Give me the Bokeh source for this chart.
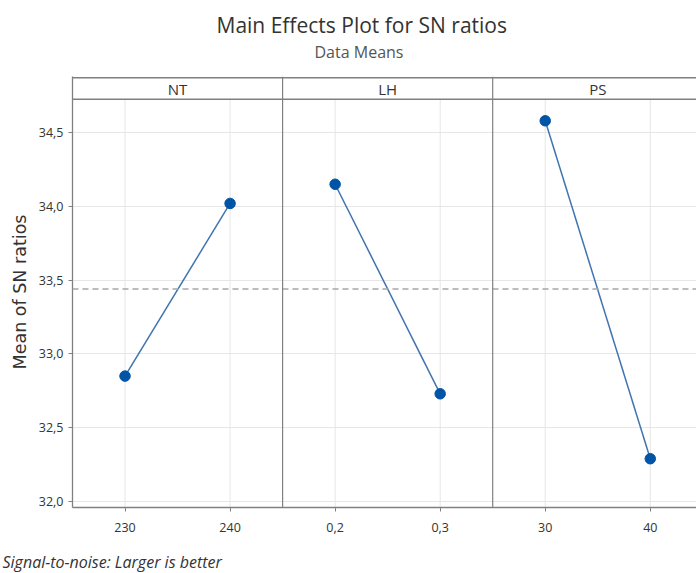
from bokeh.plotting import figure
from bokeh.models import Range1d, FixedTicker, Span, Title, ColumnDataSource
from bokeh.core.properties import value
from bokeh.embed import file_html
from bokeh.resources import INLINE

# ---- data ----
factors = ["NT", "LH", "PS"]
levels = [["230", "240"], ["0,2", "0,3"], ["30", "40"]]
sn_means = [[32.85, 34.02], [34.15, 32.73], [34.58, 32.29]]
overall_mean = 33.44
y_ticks = [32.0, 32.5, 33.0, 33.5, 34.0, 34.5]
y_tick_labels = ["32,0", "32,5", "33,0", "33,5", "34,0", "34,5"]
title_text = "Main Effects Plot for SN ratios"
subtitle_text = "Data Means"
footer_text = "Signal-to-noise: Larger is better"

FONT = "Open Sans"
TXT = "#333333"
FRAME = "#808080"

# ---- layout ----
y_start = 31.9595
strip_bottom = 34.725
strip_top = 34.872
y_end = strip_top + 0.008
x_start, x_end = -0.5, 5.44

p = figure(width=696, height=573, output_backend="svg", toolbar_location=None,
           x_range=Range1d(x_start, x_end), y_range=Range1d(y_start, y_end),
           min_border_left=72, min_border_right=0, min_border_top=76,
           min_border_bottom=66, background_fill_color="white",
           border_fill_color="white")
p.outline_line_color = None

# titles (stacked outward from the frame)
p.add_layout(Title(text=" ", text_font_size="1px", standoff=11), "above")  # spacer
p.add_layout(Title(text=subtitle_text, align="left", offset=242,
                   text_font=FONT, text_font_size="16px", text_font_style="normal",
                   text_color="#555555", standoff=0), "above")
p.add_layout(Title(text=title_text, align="left", offset=144,
                   text_font=FONT, text_font_size="21px", text_font_style="normal",
                   text_color=TXT, standoff=0), "above")
p.add_layout(Title(text=footer_text, align="left", offset=-70,
                   text_font=FONT, text_font_size="16px", text_font_style="italic",
                   text_color=TXT, standoff=0), "below")

# x positions
xs, ys, xlab = [], [], {}
for i, (lv, vals) in enumerate(zip(levels, sn_means)):
    for j, (l, v) in enumerate(zip(lv, vals)):
        xs.append(2 * i + j)
        ys.append(v)
        xlab[2 * i + j] = l

# grids
p.xgrid.visible = False
p.ygrid.ticker = FixedTicker(ticks=y_ticks)
p.ygrid.grid_line_color = "#e6e6e6"
p.segment(x0=xs, y0=[y_start] * len(xs), x1=xs, y1=[strip_bottom] * len(xs),
          line_color="#e6e6e6", line_width=1)

# mean reference
p.add_layout(Span(location=overall_mean, dimension="width", line_color="#a6a6a6",
                  line_dash="6 4", line_width=1.3))

# strip
p.add_layout(Span(location=strip_bottom, dimension="width", line_color=FRAME, line_width=1.5))
p.add_layout(Span(location=strip_top, dimension="width", line_color=FRAME, line_width=1.5))
for i in range(len(factors) - 1):
    p.add_layout(Span(location=2 * i + 1.5, dimension="height", line_color=FRAME, line_width=1.2))
p.text(x=[2 * i + 0.5 for i in range(len(factors))],
       y=[(strip_bottom + strip_top) / 2] * len(factors), text=factors,
       text_align="center", text_baseline="middle", text_font=value(FONT),
       text_font_size="15px", text_color=TXT)

# series
for i, vals in enumerate(sn_means):
    src = ColumnDataSource(dict(x=[2 * i, 2 * i + 1], y=vals))
    p.line("x", "y", source=src, line_color="#3f74b0", line_width=1.5)
    p.scatter("x", "y", source=src, size=10.5, fill_color="#0054a6", line_color="#0054a6")

# axes
p.yaxis.ticker = FixedTicker(ticks=y_ticks)
p.yaxis.major_label_overrides = dict(zip(y_ticks, y_tick_labels))
p.yaxis.axis_label = "Mean of SN ratios"
p.yaxis.axis_label_text_font = "DejaVu Sans"
p.yaxis.axis_label_text_font_size = "17.5px"
p.yaxis.axis_label_text_font_style = "normal"
p.yaxis.axis_label_text_color = TXT
p.yaxis.axis_label_standoff = 6
p.xaxis.ticker = FixedTicker(ticks=xs)
p.xaxis.major_label_overrides = xlab
p.xaxis.axis_label = " "
p.xaxis.axis_label_text_font_size = "1px"
p.xaxis.axis_label_standoff = 10
for ax in (p.xaxis, p.yaxis):
    ax.axis_line_color = FRAME
    ax.axis_line_width = 1.3
    ax.major_tick_line_color = FRAME
    ax.major_tick_out = 4
    ax.major_tick_in = 0
    ax.minor_tick_line_color = None
    ax.major_label_text_font = FONT
    ax.major_label_text_font_size = "12.5px"
    ax.major_label_text_color = TXT
p.yaxis.major_label_standoff = 5
p.xaxis.major_label_standoff = 11

open("out.html", "w").write(file_html(p, INLINE))
